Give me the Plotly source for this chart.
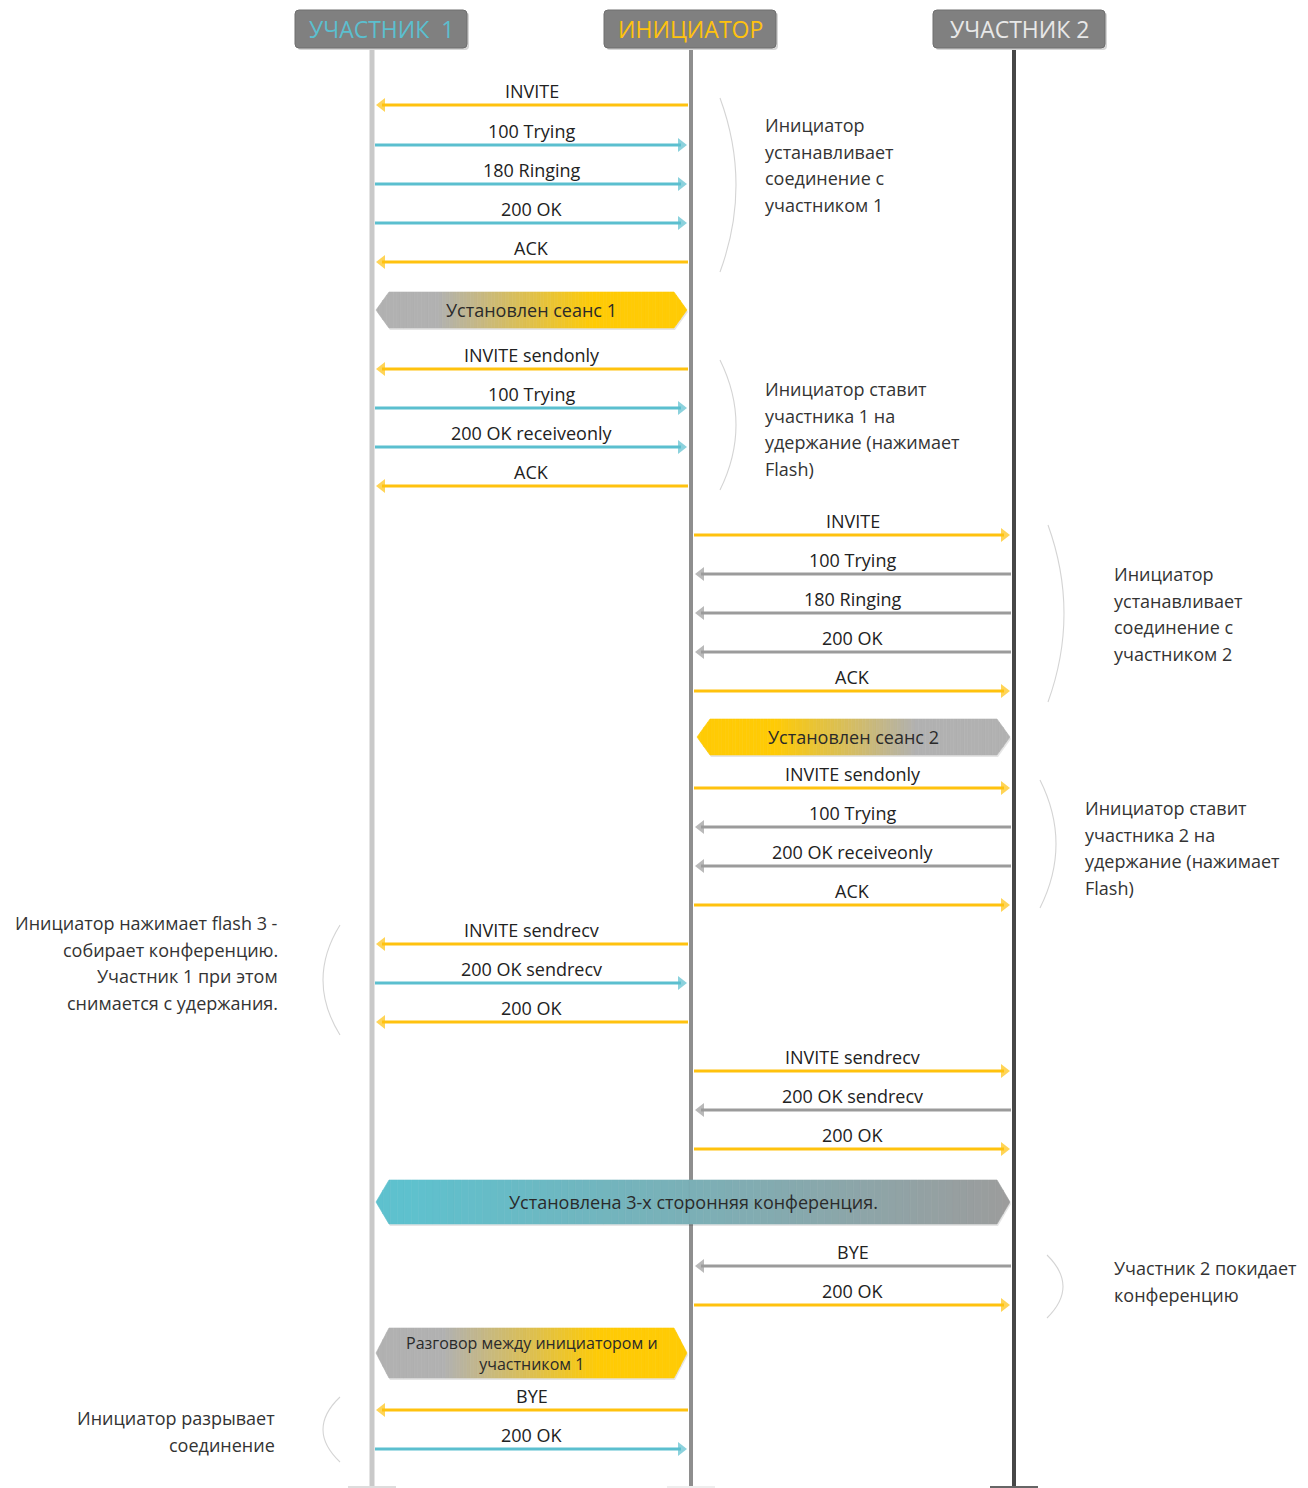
import plotly.graph_objects as go
import numpy as np

W, H = 1308, 1488
PAGE_OFFSET = 8  # default body margin of the html page

# participants (lifelines)
participants = ['УЧАСТНИК  1', 'ИНИЦИАТОР', 'УЧАСТНИК 2']
participant_x = [372, 691, 1014]
header_center = [381, 690, 1019]
header_text_color = ['#5bbfcf', '#ffc20e', '#e8e8e8']
lifeline_color = ['#c9c9c9', '#8e8e8e', '#474747']
sender_color = ['#5bbfcf', '#ffc20e', '#9b9b9b']

# messages: label, sender, receiver, position on the time axis
msg_labels = ['INVITE', '100 Trying', '180 Ringing', '200 OK', 'ACK',
              'INVITE sendonly', '100 Trying', '200 OK receiveonly', 'ACK',
              'INVITE', '100 Trying', '180 Ringing', '200 OK', 'ACK',
              'INVITE sendonly', '100 Trying', '200 OK receiveonly', 'ACK',
              'INVITE sendrecv', '200 OK sendrecv', '200 OK',
              'INVITE sendrecv', '200 OK sendrecv', '200 OK',
              'BYE', '200 OK',
              'BYE', '200 OK']
msg_from = [1, 0, 0, 0, 1, 1, 0, 0, 1, 1, 2, 2, 2, 1, 1, 2, 2, 1, 1, 0, 1, 1, 2, 1, 2, 1, 1, 0]
msg_to = [0, 1, 1, 1, 0, 0, 1, 1, 0, 2, 1, 1, 1, 2, 2, 1, 1, 2, 0, 1, 0, 2, 1, 2, 1, 2, 0, 1]
msg_y = [105, 145, 184, 223, 262, 369, 408, 447, 486, 535, 574, 613, 652, 691,
         788, 827, 866, 905, 944, 983, 1022, 1071, 1110, 1149, 1266, 1305, 1410, 1449]

# state banners
banner_labels = ['Установлен сеанс 1', 'Установлен сеанс 2',
                 'Установлена 3-х сторонняя конференция.',
                 'Разговор между инициатором и<br>участником 1']
banner_y = [310, 737, 1202, 1353]
banner_span = [(0, 1), (1, 2), (0, 2), (0, 1)]
banner_colors = [('#b1b1b1', '#ffcb05'), ('#ffcb05', '#b1b1b1'),
                 ('#5ec1ce', '#9c9c9c'), ('#b1b1b1', '#ffcb05')]
banner_stops = [(0.2, 0.7), (0.25, 0.7), (0.05, 1.0), (0.22, 0.72)]

# side notes
note_lines = [
    ['Инициатор', 'устанавливает', 'соединение с', 'участником 1'],
    ['Инициатор ставит', 'участника 1 на', 'удержание (нажимает', 'Flash)'],
    ['Инициатор', 'устанавливает', 'соединение с', 'участником 2'],
    ['Инициатор ставит', 'участника 2 на', 'удержание (нажимает', 'Flash)'],
    ['Инициатор нажимает flash 3 -', 'собирает конференцию.', 'Участник 1 при этом',
     'снимается с удержания.'],
    ['Участник 2 покидает', 'конференцию'],
    ['Инициатор разрывает', 'соединение'],
]
note_x = [763, 763, 1112, 1083, 280, 1112, 277]
note_y = [125, 389, 574, 808, 923, 1268, 1418]
note_side = ['right', 'right', 'right', 'right', 'left', 'right', 'left']
brace_x = [720, 720, 1048, 1040, 340, 1047, 340]
brace_y = [(98, 272), (360, 490), (525, 702), (780, 908), (925, 1035), (1255, 1318), (1397, 1462)]

FONT = 'Open Sans, DejaVu Sans, sans-serif'
HEAD_FONT = 'Liberation Sans Narrow, Open Sans, sans-serif'

fig = go.Figure()
shapes = []
annotations = []

# lifelines
for i, x in enumerate(participant_x):
    shapes.append(dict(type='line', x0=x, x1=x, y0=48, y1=H, layer='below',
                       line=dict(color=lifeline_color[i], width=5 if i == 0 else 4)))
    shapes.append(dict(type='line', x0=x - 24, x1=x + 24, y0=H - 1, y1=H - 1, layer='below',
                       line=dict(color=['#dddddd', '#eeeeee', '#666666'][i], width=2)))


def rounded_box(x0, y0, x1, y1, r):
    return (f'M{x0 + r},{y0} L{x1 - r},{y0} Q{x1},{y0} {x1},{y0 + r} L{x1},{y1 - r} '
            f'Q{x1},{y1} {x1 - r},{y1} L{x0 + r},{y1} Q{x0},{y1} {x0},{y1 - r} '
            f'L{x0},{y0 + r} Q{x0},{y0} {x0 + r},{y0} Z')


# header boxes
for i, xc in enumerate(header_center):
    shapes.append(dict(type='path', path=rounded_box(xc - 84, 12, xc + 88, 50, 4),
                       fillcolor='#d6d6d6', line=dict(width=0)))
    shapes.append(dict(type='path', path=rounded_box(xc - 86, 10, xc + 86, 48, 4),
                       fillcolor='#808080', line=dict(color='#6e6e6e', width=1)))
    annotations.append(dict(x=xc, y=29, text=participants[i], showarrow=False,
                            font=dict(family=HEAD_FONT, size=23, color=header_text_color[i])))

# messages
for lab, a, b, y in zip(msg_labels, msg_from, msg_to, msg_y):
    xa, xb = participant_x[a], participant_x[b]
    d = 1 if xb > xa else -1
    x_start = xa + 3 * d
    tip = xb - 3 * d
    fig.add_trace(go.Scatter(
        x=[x_start, tip - 7 * d], y=[y, y], mode='lines+markers',
        line=dict(color=sender_color[a], width=3),
        marker=dict(symbol=['circle', 'triangle-right' if d > 0 else 'triangle-left'],
                    size=[0, 12], color=sender_color[a], line=dict(width=0)),
        hoverinfo='skip', showlegend=False))
    annotations.append(dict(x=(xa + xb) / 2, y=y - 0.5, yanchor='bottom', text=lab,
                            showarrow=False, font=dict(family=FONT, size=18, color='#222222')))


def hexcolor(c):
    c = c.lstrip('#')
    return np.array([int(c[k:k + 2], 16) for k in (0, 2, 4)], dtype=float)


# banners (gradient hexagons built from thin slices)
banner_height = [36, 36, 44, 50]
for lab, yc, (pa, pb), (c0, c1), (s0, s1), hh in zip(banner_labels, banner_y, banner_span,
                                                      banner_colors, banner_stops, banner_height):
    x0 = participant_x[pa] + 4
    x1 = participant_x[pb] - 4
    if (pa, pb) == (1, 2):
        x0 += 2
    h2 = hh / 2
    tip = 13
    rgb0, rgb1 = hexcolor(c0), hexcolor(c1)

    def half(x):
        if x < x0 + tip:
            return h2 * (x - x0) / tip
        if x > x1 - tip:
            return h2 * (x1 - x) / tip
        return h2

    # soft shadow
    shapes.append(dict(type='path',
                       path=f'M{x0 + 1},{yc + 2} L{x0 + tip + 1},{yc - h2 + 2} L{x1 - tip + 1},{yc - h2 + 2} '
                            f'L{x1 + 1},{yc + 2} L{x1 - tip + 1},{yc + h2 + 2} L{x0 + tip + 1},{yc + h2 + 2} Z',
                       fillcolor='rgba(0,0,0,0.10)', line=dict(width=0)))
    xs = np.linspace(x0, x1, 90)
    for k in range(len(xs) - 1):
        xa, xb = xs[k], xs[k + 1]
        pts = [xa, xb]
        if xa < x0 + tip < xb:
            pts = [xa, x0 + tip, xb]
        if xa < x1 - tip < xb:
            pts = [xa, x1 - tip, xb]
        t = ((xa + xb) / 2 - x0) / (x1 - x0)
        f = np.clip((t - s0) / (s1 - s0), 0, 1)
        col = rgb0 + (rgb1 - rgb0) * f
        top = ' L'.join(f'{p:.2f},{yc - half(p):.2f}' for p in pts)
        bot = ' L'.join(f'{p:.2f},{yc + half(p):.2f}' for p in reversed(pts))
        shapes.append(dict(type='path', path=f'M{top} L{bot} Z',
                           fillcolor=f'rgb({col[0]:.0f},{col[1]:.0f},{col[2]:.0f})',
                           line=dict(width=0.6, color=f'rgb({col[0]:.0f},{col[1]:.0f},{col[2]:.0f})')))
    annotations.append(dict(x=(x0 + x1) / 2, y=yc, text=lab, showarrow=False,
                            font=dict(family=FONT, size=16 if '<br>' in lab else 18, color='#2a2a2a')))

# braces and notes
for lines, nx, ny, side, bx, (by0, by1) in zip(note_lines, note_x, note_y, note_side, brace_x, brace_y):
    bulge = 32 if side == 'right' else -34
    shapes.append(dict(type='path',
                       path=f'M{bx},{by0} Q{bx + bulge},{(by0 + by1) / 2} {bx},{by1}',
                       line=dict(color='#d4d4d4', width=1.1)))
    for j, ln in enumerate(lines):
        annotations.append(dict(x=nx, y=ny + j * 26.5, text=ln, showarrow=False,
                                xanchor='left' if side == 'right' else 'right',
                                font=dict(family=FONT, size=18, color='#333333')))

fig.update_layout(
    width=W, height=H,
    margin=dict(l=0, r=0, t=0, b=0),
    paper_bgcolor='white', plot_bgcolor='white',
    xaxis=dict(range=[PAGE_OFFSET, W + PAGE_OFFSET], visible=False, fixedrange=True),
    yaxis=dict(range=[H + PAGE_OFFSET, PAGE_OFFSET], visible=False, fixedrange=True),
    shapes=shapes,
    annotations=annotations,
    showlegend=False,
)

fig.write_html("out.html")
